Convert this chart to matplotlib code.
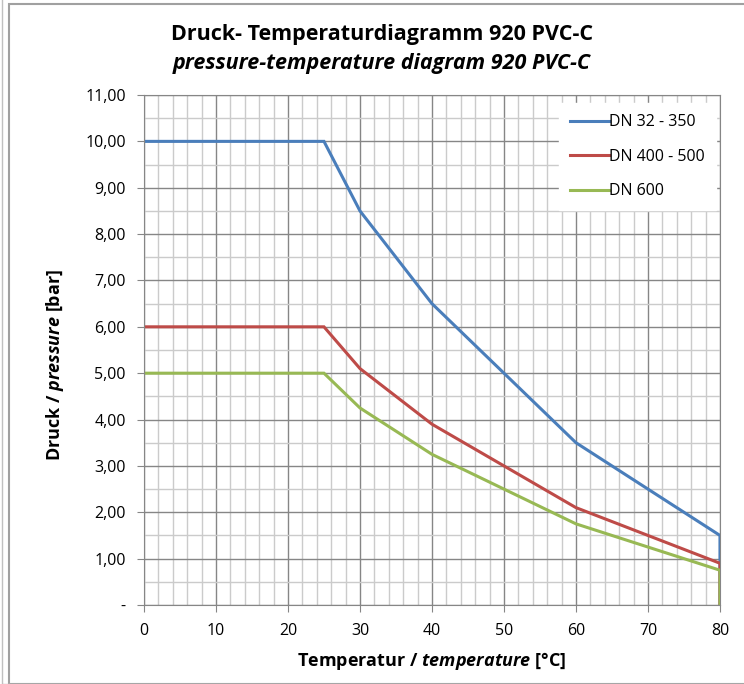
import matplotlib
matplotlib.use('Agg')
import matplotlib.pyplot as plt
from matplotlib.ticker import MultipleLocator, FuncFormatter
from matplotlib.patches import Rectangle

temp = [0, 25, 30, 40, 50, 60, 80, 80]
dn_32_350 = [10.0, 10.0, 8.5, 6.5, 5.0, 3.5, 1.5, 0.0]
dn_400_500 = [6.0, 6.0, 5.1, 3.9, 3.0, 2.1, 0.9, 0.0]
dn_600 = [5.0, 5.0, 4.25, 3.25, 2.5, 1.75, 0.75, 0.0]
labels = ['DN 32 - 350', 'DN 400 - 500', 'DN 600']
colors = ['#4a7ebb', '#be4b48', '#98b954']

plt.rcParams['font.family'] = 'Open Sans'
plt.rcParams['mathtext.fontset'] = 'custom'
plt.rcParams['mathtext.rm'] = 'Open Sans:bold'
plt.rcParams['mathtext.bfit'] = 'Open Sans:italic:bold'

fig = plt.figure(figsize=(7.44, 6.84), dpi=100)
fig.patches.append(Rectangle((0.012, 0.0), 1.2, 0.994, transform=fig.transFigure,
                             fill=False, edgecolor='#a0a0a0', lw=1.5))
fig.patches.append(Rectangle((0.003, 0.0), 1.2, 1.1, transform=fig.transFigure,
                             fill=False, edgecolor='#c0c0c0', lw=1.0))
ax = fig.add_axes([0.1935, 0.1155, 0.7742, 0.7456])

for y, lab, c in zip([dn_32_350, dn_400_500, dn_600], labels, colors):
    ax.plot(temp, y, color=c, lw=2.2, label=lab, solid_joinstyle='miter')

ax.set_xlim(0, 80)
ax.set_ylim(0, 11)
ax.xaxis.set_major_locator(MultipleLocator(10))
ax.xaxis.set_minor_locator(MultipleLocator(2))
ax.yaxis.set_major_locator(MultipleLocator(1))
ax.yaxis.set_minor_locator(MultipleLocator(0.5))
ax.yaxis.set_major_formatter(FuncFormatter(
    lambda v, p: '-' if abs(v) < 1e-9 else ('%.2f' % v).replace('.', ',')))
ax.grid(which='major', color='#868686', lw=1.0)
ax.grid(which='minor', color='#cbcbcb', lw=1.0)
ax.set_axisbelow(True)
for s in ax.spines.values():
    s.set_color('#868686')
ax.tick_params(which='major', length=5, color='#868686', labelsize=11.5, pad=8)
ax.tick_params(which='minor', length=0)

fig.text(0.513, 0.950, 'Druck- Temperaturdiagramm 920 PVC-C', ha='center', va='center',
         fontsize=15.5, fontweight='bold')
fig.text(0.513, 0.907, 'pressure-temperature diagram 920 PVC-C', ha='center', va='center',
         fontsize=15.5, fontweight='bold', style='italic')
ax.set_xlabel(r'Temperatur / $\mathbfit{temperature}$ [°C]', fontsize=13,
              fontweight='bold', labelpad=8)
ax.set_ylabel(r'Druck / $\mathbfit{pressure}$ [bar]', fontsize=13,
              fontweight='bold')
ax.yaxis.set_label_coords(-0.135, 0.47)

leg = ax.legend(loc='upper right', bbox_to_anchor=(0.998, 0.99), fontsize=11.5,
                frameon=True, fancybox=False, edgecolor='white', framealpha=1,
                handlelength=2.4, handletextpad=0.0, labelspacing=1.15,
                borderpad=0.7, borderaxespad=0.2)

fig.savefig('out.png', dpi=100)
